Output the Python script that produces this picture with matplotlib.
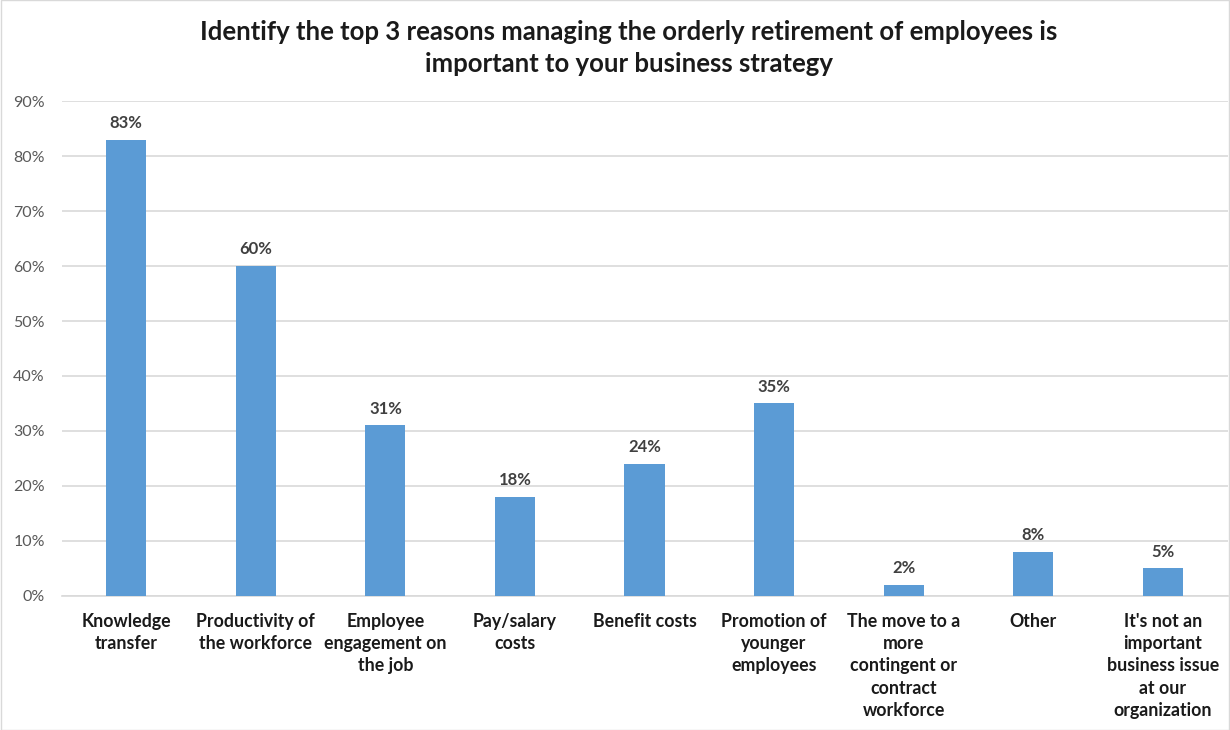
"""Survey results: reasons for managing orderly retirement."""

import matplotlib.pyplot as plt
from matplotlib.patches import Rectangle

plt.rcParams["font.family"] = ["Lato", "DejaVu Sans"]

reasons = [
    "Knowledge\ntransfer",
    "Productivity of\nthe workforce",
    "Employee\nengagement on\nthe job",
    "Pay/salary\ncosts",
    "Benefit costs",
    "Promotion of\nyounger\nemployees",
    "The move to a\nmore\ncontingent or\ncontract\nworkforce",
    "Other",
    "It's not an\nimportant\nbusiness issue\nat our\norganization",
]
shares = [83, 60, 31, 18, 24, 35, 2, 8, 5]
y_ticks = [0, 10, 20, 30, 40, 50, 60, 70, 80, 90]

title = ("Identify the top 3 reasons managing the orderly retirement of employees is\n"
         "important to your business strategy")

fig = plt.figure(figsize=(12.3, 7.3), dpi=100)
ax = fig.add_axes([0.050, 0.1836, 0.948, 0.678])

x = list(range(len(reasons)))
ax.bar(x, shares, width=0.31, color="#5B9BD5", zorder=3)

for xi, v in zip(x, shares):
    ax.text(xi, v + 1.6, f"{v}%", ha="center", va="bottom",
            fontsize=12, fontweight="bold", color="#404040")

ax.set_xlim(-0.5, len(reasons) - 0.5)
ax.set_ylim(0, 90)
ax.set_yticks(y_ticks)
ax.set_yticklabels([f"{t}%" for t in y_ticks], fontsize=11.5, color="#595959")
ax.set_xticks(x)
ax.set_xticklabels(reasons, fontsize=12.8, fontweight="bold", color="#1a1a1a",
                   linespacing=1.38, va="top")
ax.tick_params(axis="both", length=0)
ax.tick_params(axis="x", pad=12)
ax.tick_params(axis="y", pad=12)

ax.grid(axis="y", color="#D9D9D9", linewidth=1.2, zorder=0)
for s in ["top", "right", "left"]:
    ax.spines[s].set_visible(False)
ax.spines["bottom"].set_color("#D9D9D9")
ax.spines["bottom"].set_linewidth(1.2)

fig.text(0.511, 0.972, title, ha="center", va="top", fontsize=18.5,
         fontweight="bold", color="#1a1a1a", linespacing=1.4)

fig.patches.append(Rectangle((0.0005, 0.0005), 0.999, 0.999, transform=fig.transFigure,
                             fill=False, edgecolor="#D9D9D9", linewidth=1))

fig.savefig("out.png", dpi=100)
